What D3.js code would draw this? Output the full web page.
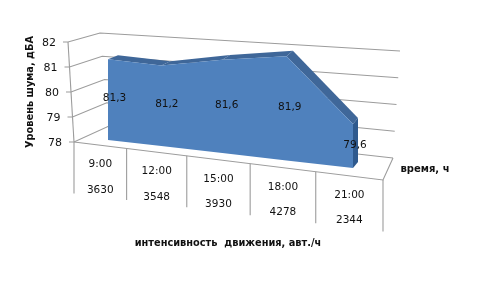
<!DOCTYPE html>
<html>
<head>
<meta charset="utf-8">
<script src="https://cdn.jsdelivr.net/npm/d3@7"></script>
<style>
  html, body { margin: 0; padding: 0; background: #fff; }
  svg { display: block; filter: blur(0.35px); }
  text { font-family: "DejaVu Sans", sans-serif; fill: #111; }
</style>
</head>
<body>
<svg id="chart"></svg>
<script>
// 数据
const times = ["9:00", "12:00", "15:00", "18:00", "21:00"];
const traffic = ["3630", "3548", "3930", "4278", "2344"];
const noise = [81.3, 81.2, 81.6, 81.9, 79.6];
const noiseTicks = [78, 79, 80, 81, 82];

const width = 481;
const height = 288;
const gridColor = "#9c9c9c";

const svg = d3.select("#chart").attr("width", width).attr("height", height);

// 三维透视用几个比例尺近似
const level = d3.scaleLinear().domain([78, 82]);
const frontX = level.copy().range([74, 68]);
const frontY = level.copy().range([142, 42]);
const backX = level.copy().range([109, 100]);
const backY = level.copy().range([126, 33]);
const rightX = level.copy().range([393, 400]);
const rightY = level.copy().range([158, 51]);

// 地板前沿（分类刻度）
const edgeX = d3.scalePow().exponent(1.1).domain([0, times.length]).range([74, 383]);
const edgeY = d3.scaleLinear().domain([74, 383]).range([142, 180]);

// 面积图的位置
const pointX = d3.scalePow().exponent(1.1).domain([0, times.length - 1]).range([108, 353]);
const baseY = d3.scaleLinear().domain([108, 353]).range([140, 168]);
const unit = d3.scaleLinear().domain([108, 353]).range([24.5, 27.5]);
const depthX = d3.scaleLinear().domain([108, 353]).range([10, 5]);
const depthY = d3.scaleLinear().domain([108, 353]).range([-4, -6]);
const labelShift = d3.scaleLinear().domain([108, 353]).range([6.5, 2]);

const line = d3.line();

function gridLine(points) {
    svg.append("path")
        .attr("d", line(points))
        .attr("fill", "none")
        .attr("stroke", gridColor)
        .attr("stroke-width", 1.1);
}

// 网格线和左墙
noiseTicks.forEach(v => {
    gridLine([[frontX(v) - 5, frontY(v)], [frontX(v), frontY(v)], [backX(v), backY(v)], [rightX(v), rightY(v)]]);
    svg.append("text")
        .attr("x", frontX(v) - 19)
        .attr("y", frontY(v) + 1)
        .attr("text-anchor", "middle")
        .attr("dominant-baseline", "middle")
        .attr("font-size", 11)
        .text(v);
});
gridLine([[frontX(78), frontY(78)], [frontX(82), frontY(82)]]);

// 地板
gridLine([[edgeX.range()[0], edgeY(74)], [edgeX.range()[1], edgeY(383)], [rightX(78), rightY(78)]]);

// 分类刻度和标签
d3.range(times.length + 1).forEach(i => {
    const x = edgeX(i);
    gridLine([[x, edgeY(x)], [x, edgeY(x) + 51.5]]);
});
times.forEach((t, i) => {
    const x = (edgeX(i) + edgeX(i + 1)) / 2;
    const y = edgeY(x);
    svg.append("text").attr("x", x).attr("y", y + 19)
        .attr("text-anchor", "middle").attr("dominant-baseline", "middle")
        .attr("font-size", 10.5).text(t);
    svg.append("text").attr("x", x).attr("y", y + 44.5)
        .attr("text-anchor", "middle").attr("dominant-baseline", "middle")
        .attr("font-size", 10.5).text(traffic[i]);
});

// 面积
const bottom = noise.map((v, i) => {
    const x = pointX(i);
    return [x, baseY(x)];
});
const top_ = noise.map((v, i) => {
    const x = pointX(i);
    return [x, baseY(x) - (v - 78) * unit(x)];
});
const shift = p => [p[0] + depthX(p[0]), p[1] + depthY(p[0])];

// 顶面
d3.range(noise.length - 1).forEach(i => {
    svg.append("path")
        .attr("d", line([top_[i], top_[i + 1], shift(top_[i + 1]), shift(top_[i])]) + "Z")
        .attr("fill", "#3f6799");
});
// 右侧面
const last = noise.length - 1;
svg.append("path")
    .attr("d", line([top_[last], shift(top_[last]), shift(bottom[last]), bottom[last]]) + "Z")
    .attr("fill", "#2f5a8e");
// 正面
svg.append("path")
    .attr("d", line(top_.concat(bottom.slice().reverse())) + "Z")
    .attr("fill", "#4f81bd");

// 数据标签
noise.forEach((v, i) => {
    const x = pointX(i);
    svg.append("text")
        .attr("x", x + labelShift(x))
        .attr("y", (top_[i][1] + bottom[i][1]) / 2 - 1.5)
        .attr("text-anchor", "middle")
        .attr("dominant-baseline", "middle")
        .attr("font-size", 10.5)
        .text(String(v).replace(".", ","));
});

// 坐标轴标题
svg.append("text")
    .attr("transform", "translate(30,92) rotate(-90)")
    .attr("text-anchor", "middle")
    .attr("dominant-baseline", "middle")
    .attr("font-size", 9.8)
    .attr("font-weight", "bold")
    .text("Уровень шума, дБА");
svg.append("text")
    .attr("x", 228).attr("y", 243)
    .attr("text-anchor", "middle")
    .attr("dominant-baseline", "middle")
    .attr("font-size", 9.8)
    .attr("font-weight", "bold")
    .style("white-space", "pre")
    .text("интенсивность  движения, авт./ч");
svg.append("text")
    .attr("x", 400.5).attr("y", 169)
    .attr("dominant-baseline", "middle")
    .attr("font-size", 10)
    .attr("font-weight", "bold")
    .text("время, ч");
</script>
</body>
</html>
